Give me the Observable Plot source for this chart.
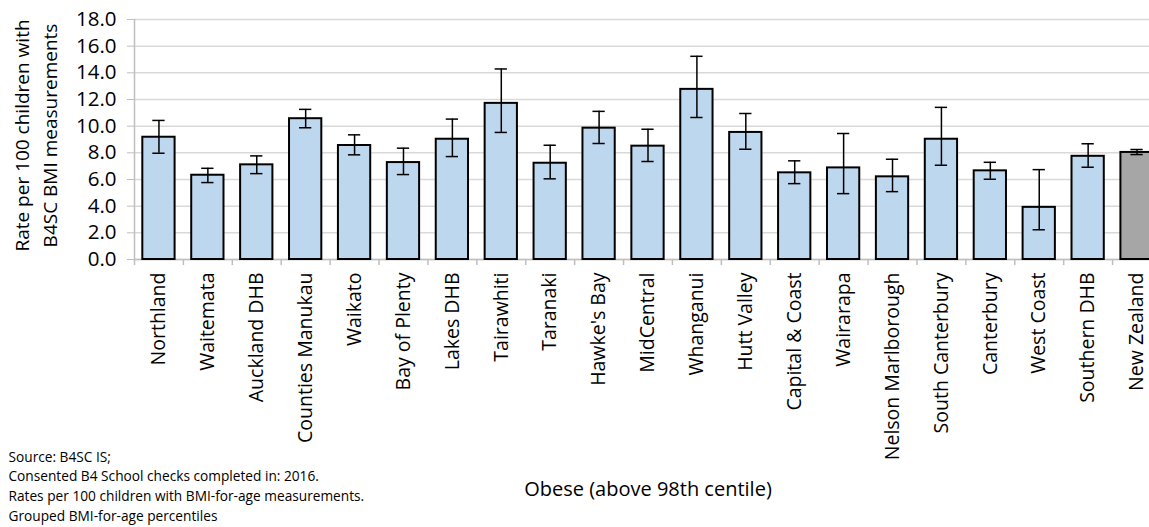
<!DOCTYPE html>
<html>
<head>
<meta charset="utf-8">
<script src="https://cdn.jsdelivr.net/npm/d3@7"></script>
<script src="https://cdn.jsdelivr.net/npm/@observablehq/plot@0.6"></script>
<style>
  html, body { margin: 0; padding: 0; background: #fff; overflow: hidden; }
  #chart { width: 1149px; height: 527px; overflow: hidden; }
  #chart svg { max-width: none !important; }
</style>
</head>
<body>
<div id="chart"></div>
<script>
const regions = ["Northland","Waitemata","Auckland DHB","Counties Manukau","Waikato","Bay of Plenty","Lakes DHB","Tairawhiti","Taranaki","Hawke's Bay","MidCentral","Whanganui","Hutt Valley","Capital & Coast","Wairarapa","Nelson Marlborough","South Canterbury","Canterbury","West Coast","Southern DHB","New Zealand"];
const rates = [9.17, 6.32, 7.10, 10.56, 8.55, 7.27, 9.02, 11.71, 7.22, 9.85, 8.50, 12.76, 9.53, 6.50, 6.87, 6.20, 9.02, 6.65, 3.91, 7.74, 8.03];
const lower = [7.97, 5.77, 6.44, 9.88, 7.85, 6.37, 7.72, 9.53, 6.05, 8.70, 7.35, 10.65, 8.27, 5.69, 4.94, 5.09, 7.07, 6.02, 2.23, 6.92, 7.87];
const upper = [10.43, 6.84, 7.77, 11.26, 9.35, 8.35, 10.53, 14.29, 8.57, 11.11, 9.77, 15.24, 10.95, 7.40, 9.45, 7.52, 11.41, 7.29, 6.74, 8.68, 8.25];
const nzRate = 8.03;
const yTicks = [0, 2, 4, 6, 8, 10, 12, 14, 16, 18];
const yTitle = ["Rate per 100 children with", "B4SC BMI measurements"];
const xTitle = "Obese (above 98th centile)";
const notes = ["Source: B4SC IS;", "Consented B4 School checks completed in: 2016.", "Rates per 100 children with BMI-for-age measurements.", "Grouped BMI-for-age percentiles"];

const data = regions.map((r, i) => ({region: r, rate: rates[i], lo: lower[i], hi: upper[i], nz: r === "New Zealand"}));

const W = 1161, H = 527, ML = 134, MR = 0, MT = 19, MB = 268;
const step = (W - ML - MR) / regions.length;
const grid = "#D9D9D9";
const axisGray = "#BFBFBF";

const chart = Plot.plot({
  width: W,
  height: H,
  marginLeft: ML,
  marginRight: MR,
  marginTop: MT,
  marginBottom: MB,
  style: {fontFamily: "'Open Sans', sans-serif", fontSize: "19px", color: "#000", background: "#fff", maxWidth: "none"},
  x: {type: "band", domain: regions, paddingInner: 0.34, paddingOuter: 0.17, round: false},
  y: {domain: [0, 18]},
  marks: [
    Plot.gridY(yTicks, {stroke: grid, strokeOpacity: 1, strokeWidth: 1.5}),
    Plot.ruleY([0], {stroke: axisGray, strokeWidth: 1.5}),
    Plot.ruleX([regions[0]], {dx: -step / 2, stroke: axisGray, strokeWidth: 1.5}),
    Plot.ruleX(regions, {x: d => d, dx: -step / 2, y1: 0, y2: -0.45, stroke: axisGray, strokeWidth: 1.5}),
    Plot.axisY(yTicks, {tickFormat: d => d.toFixed(1), tickSize: 7, tickPadding: 11, stroke: axisGray, fill: "#000", fontSize: 20.5, label: null}),
    Plot.axisX({tickRotate: -90, tickSize: 0, tickPadding: 13, fill: "#000", fontSize: 19.5, label: null}),
    Plot.barY(data, {x: "region", y: "rate", fill: d => d.nz ? "#A6A6A6" : "#BDD7EE", stroke: "#000", strokeWidth: 2}),
    Plot.ruleY([nzRate], {x1: regions[0], x2: regions[regions.length - 1], dx: step * 0.33, stroke: "#000", strokeWidth: 2.5}),
    Plot.ruleX(data, {x: "region", y1: "lo", y2: "hi", stroke: "#000", strokeWidth: 1.5}),
    Plot.tickY(data, {x: "region", y: "lo", stroke: "#000", strokeWidth: 1.5, insetLeft: 10, insetRight: 10}),
    Plot.tickY(data, {x: "region", y: "hi", stroke: "#000", strokeWidth: 1.5, insetLeft: 10, insetRight: 10}),
    Plot.text([yTitle[0]], {text: d => d, frameAnchor: "left", textAnchor: "middle", rotate: -90, dx: -112, dy: -4, fontSize: 19, fill: "#000"}),
    Plot.text([yTitle[1]], {text: d => d, frameAnchor: "left", textAnchor: "middle", rotate: -90, dx: -84, dy: -4, fontSize: 19, fill: "#000"}),
    Plot.text([xTitle], {text: d => d, frameAnchor: "bottom", dy: 236, fontSize: 20, fill: "#000"}),
    Plot.text([notes.join("\n")], {text: d => d, frameAnchor: "bottom-left", textAnchor: "start", lineAnchor: "top", dx: -126, dy: 188, fontSize: 13.7, lineHeight: 1.45, fill: "#000"})
  ]
});
document.getElementById("chart").appendChild(chart);
</script>
</body>
</html>
